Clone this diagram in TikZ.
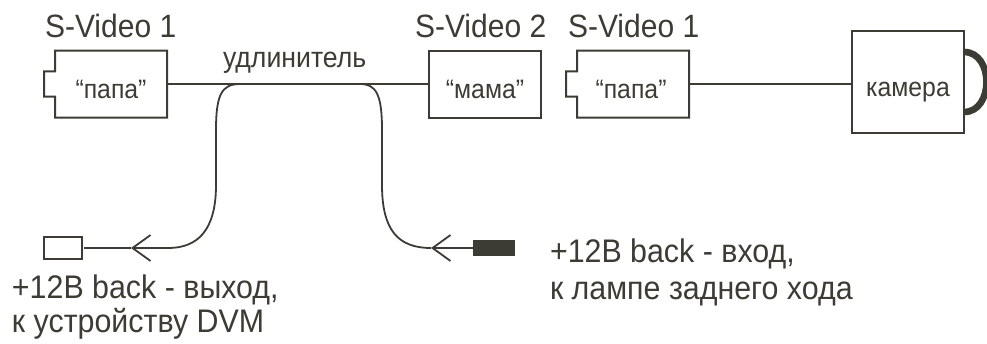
\documentclass[tikz,border=0pt]{standalone}
\usepackage{fontspec}
\setmainfont[FakeStretch=0.93]{Liberation Sans}
\usetikzlibrary{arrows.meta}
\definecolor{ink}{HTML}{3C3C34}
\newcommand{\lowered}[2]{\raisebox{-#1}[0pt][0pt]{#2}}
\tikzset{
  x=0.75pt,y=-0.75pt,
  every node/.style={text=ink,inner sep=0pt,outer sep=0pt},
  shell/.style={minimum width=84pt,minimum height=50.25pt,font=\fontsize{20}{22}\selectfont},
  outline/.style={draw=ink,line width=1.5pt,line join=miter},
  wire/.style={draw=ink,line width=1.35pt},
  barb/.style={wire,-{Straight Barb[length=13.5pt,width=19.5pt,line width=1.35pt]}},
  big/.style={font=\fontsize{24.2}{26}\selectfont,anchor=base west},
  mid/.style={font=\fontsize{21.5}{23}\selectfont,anchor=base west},
  low/.style={font=\fontsize{24.5}{26}\selectfont,anchor=base west},
}
\begin{document}
\begin{tikzpicture}
\useasboundingbox (0,0) rectangle (987,343);
% camera handle
\draw[ink,line width=5pt] (964,52) .. controls (994,52) and (994,112) .. (964,112);
% boxes
\node[shell] (p1) at (111,84) {\lowered{10.5pt}{“папа”}};
\node[shell,draw=ink,line width=1.5pt] (m) at (485,84) {\lowered{10.5pt}{“мама”}};
\node[shell] (p2) at (633,84) {\hspace*{-3pt}\lowered{10.5pt}{“папа”}};
\node[shell,draw=ink,fill=white,line width=1.5pt,minimum width=84.5pt,minimum height=76.5pt] (cam) at (908,82) {\lowered{10.5pt}{камера}};
\foreach \b in {p1,p2}{
  \draw[outline] (\b.north west) -- (\b.north east) -- (\b.south east) -- (\b.south west)
    -- ([yshift=-9.4pt]\b.west) -- ++(-8.25pt,0) -- ++(0,18.8pt) -- ([yshift=9.4pt]\b.west) -- cycle;
}
% plugs
\node[draw=ink,line width=1.5pt,minimum width=28.5pt,minimum height=16pt] (dvm) at (62.5,248) {};
\node[fill=ink,minimum width=31.5pt,minimum height=12pt] (lamp) at (494,248) {};
% main wires
\draw[wire] (p1.east) -- (m.west);
\draw[wire] (p2.east) -- (cam.west |- p2.east);
% branches
\coordinate (lj) at (240,84);
\coordinate (rj) at (360,84);
\coordinate (lb) at (168,248);
\coordinate (la) at (131,248);
\coordinate (ra) at (431,248);
\draw[wire] (lj) .. controls (222,84) and (216,94) .. (216,130) -- (216,185)
  .. controls (216,230) and (198,248) .. (lb);
\draw[barb] (lb) -- (la);
\draw[wire,shorten >=2pt] (la) -- (dvm.east);
\draw[wire] (rj) .. controls (376,84) and (382,94) .. (382,130) -- (382,185)
  .. controls (382,230) and (398,248) .. (ra);
\draw[barb] (lamp.west) -- (ra);
% labels
\node[big] (t1) at (45,37) {S-Video 1};
\node[big] (t2) at (415,37) {S-Video 2};
\node[big] (t3) at (568,37) {S-Video 1};
\node[mid] (t4) at (223,67) {удлинитель};
\node[low] (t5) at (12,298) {+12В back - выход,};
\node[low] (t6) at (12,332) {к устройству DVM};
\node[low] (t7) at (550,262) {+12В back - вход,};
\node[low] (t8) at (550,299) {к лампе заднего хода};
\end{tikzpicture}
\end{document}
